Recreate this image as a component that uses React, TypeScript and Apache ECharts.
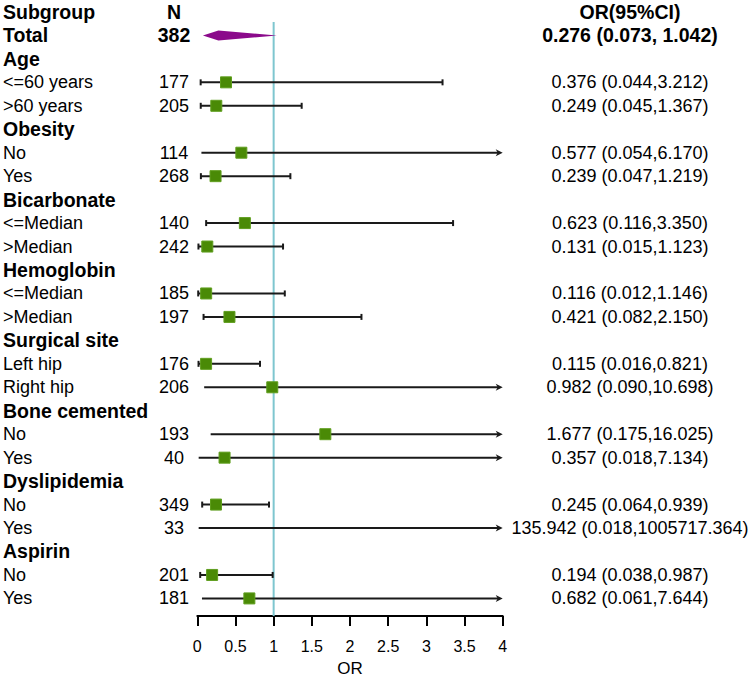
import React, { useEffect, useRef } from 'react';
import * as echarts from 'echarts';

const headerTexts = ['Subgroup', 'N', 'OR(95%CI)'];
const subgroups = ['Total', 'Age', '<=60 years', '>60 years', 'Obesity', 'No', 'Yes', 'Bicarbonate', '<=Median', '>Median', 'Hemoglobin', '<=Median', '>Median', 'Surgical site', 'Left hip', 'Right hip', 'Bone cemented', 'No', 'Yes', 'Dyslipidemia', 'No', 'Yes', 'Aspirin', 'No', 'Yes'];
const counts = [382, null, 177, 205, null, 114, 268, null, 140, 242, null, 185, 197, null, 176, 206, null, 193, 40, null, 349, 33, null, 201, 181];
const orValues = [0.276, null, 0.376, 0.249, null, 0.577, 0.239, null, 0.623, 0.131, null, 0.116, 0.421, null, 0.115, 0.982, null, 1.677, 0.357, null, 0.245, 135.942, null, 0.194, 0.682];
const ciLower = [0.073, null, 0.044, 0.045, null, 0.054, 0.047, null, 0.116, 0.015, null, 0.012, 0.082, null, 0.016, 0.09, null, 0.175, 0.018, null, 0.064, 0.018, null, 0.038, 0.061];
const ciUpper = [1.042, null, 3.212, 1.367, null, 6.17, 1.219, null, 3.35, 1.123, null, 1.146, 2.15, null, 0.821, 10.698, null, 16.025, 7.134, null, 0.939, 1005717.364, null, 0.987, 7.644];
const axisMin = 0;
const axisMax = 4;
const axisInterval = 0.5;
const refValue = 1;

const FONT = '"Liberation Sans", Arial, sans-serif';
// rows are placed top-down on a value axis: y = ROW_BASE - rowIndex
const ROW_BASE = 30;

export default function App() {
  const ref = useRef<HTMLDivElement>(null);
  useEffect(() => {
    if (!ref.current) return;
    const chart = echarts.init(ref.current, null, { renderer: 'svg' });
    const rowCount = subgroups.length + 1;
    const rowY = (r: number) => ROW_BASE - r;
    const yMin = rowY(25.75);
    const yMax = rowY(-0.51);

    const textData = [];
    for (let r = 0; r < rowCount; r++) textData.push([0, rowY(r), r]);

    const forestData: any[] = [];
    subgroups.forEach((_, i) => {
      if (orValues[i] == null) return;
      forestData.push([orValues[i], rowY(i + 1), ciLower[i], ciUpper[i], i === 0 ? 1 : 0]);
    });

    const fmt = (v: number) => v.toFixed(3);

    const option: any = {
      animation: false,
      grid: { left: 197.3, right: 248.3, top: 0, bottom: 63.3, containLabel: false },
      xAxis: {
        type: 'value',
        position: 'bottom',
        min: axisMin,
        max: axisMax,
        interval: axisInterval,
        name: 'OR',
        nameLocation: 'middle',
        nameGap: 44,
        nameTextStyle: { fontSize: 17, color: '#000', fontFamily: FONT },
        axisLine: { show: true, onZero: false, lineStyle: { color: '#000', width: 2 } },
        axisTick: { show: true, inside: false, length: 10, lineStyle: { color: '#000', width: 2 } },
        axisLabel: { fontSize: 16, color: '#000', fontFamily: FONT, margin: 22 },
        splitLine: { show: false },
      },
      yAxis: {
        type: 'value',
        min: yMin,
        max: yMax,
        show: false,
        splitLine: { show: false },
      },
      series: [
        {
          type: 'line',
          z: 1,
          symbol: 'none',
          clip: false,
          data: [[refValue, rowY(0.43)], [refValue, yMin]],
          lineStyle: { color: '#7ec6cf', width: 2 },
          silent: true,
        },
        {
          type: 'custom',
          z: 2,
          clip: false,
          data: forestData,
          renderItem: (params: any, api: any) => {
            const or = api.value(0);
            const row = api.value(1);
            const lo = api.value(2);
            const hi = api.value(3);
            const isTotal = api.value(4) === 1;
            const y = api.coord([0, row])[1];
            const xLo = api.coord([lo, row])[0];
            const arrow = hi > axisMax;
            const xHi = api.coord([Math.min(hi, axisMax), row])[0];
            const children: any[] = [];
            if (isTotal) {
              const xOr = api.coord([or, row])[0];
              children.push({
                type: 'polygon',
                shape: { points: [[xLo, y], [xOr, y - 5], [xHi, y], [xOr, y + 5]] },
                style: { fill: '#8b0a8b' },
                z2: 5,
              });
              return { type: 'group', children };
            }
            children.push({
              type: 'line',
              shape: { x1: xLo, y1: y, x2: arrow ? xHi - 3 : xHi, y2: y },
              style: { stroke: '#1a1a1a', lineWidth: 2 },
            });
            if (arrow) {
              children.push({
                type: 'polygon',
                shape: { points: [[xHi, y], [xHi - 7, y - 3.5], [xHi - 5, y], [xHi - 7, y + 3.5]] },
                style: { fill: '#1a1a1a' },
              });
            } else {
              children.push({
                type: 'line',
                shape: { x1: xLo, y1: y - 3, x2: xLo, y2: y + 3 },
                style: { stroke: '#1a1a1a', lineWidth: 2 },
              });
              children.push({
                type: 'line',
                shape: { x1: xHi, y1: y - 3, x2: xHi, y2: y + 3 },
                style: { stroke: '#1a1a1a', lineWidth: 2 },
              });
            }
            if (or <= axisMax) {
              const xOr = api.coord([or, row])[0];
              children.push({
                type: 'rect',
                shape: { x: xOr - 5.5, y: y - 5.5, width: 11, height: 11 },
                style: { fill: '#4a8a06', stroke: '#5f9e1e', lineWidth: 1 },
                z2: 10,
              });
            }
            return { type: 'group', children };
          },
        },
        {
          type: 'custom',
          z: 3,
          clip: false,
          silent: true,
          data: textData,
          renderItem: (params: any, api: any) => {
            const yVal = api.value(1);
            const row = api.value(2);
            const y = api.coord([0, yVal])[1];
            const children: any[] = [];
            const mk = (text: string, x: number, align: string, bold: boolean) => ({
              type: 'text',
              style: {
                x,
                y,
                text,
                fill: '#000',
                fontSize: bold ? 19.5 : 18,
                fontWeight: bold ? 'bold' : 'normal',
                fontFamily: FONT,
                align,
                verticalAlign: 'middle',
              },
            });
            if (row === 0) {
              children.push(mk(headerTexts[0], 3, 'left', true));
              children.push(mk(headerTexts[1], 174, 'center', true));
              children.push(mk(headerTexts[2], 630, 'center', true));
            } else {
              const i = row - 1;
              const isGroup = counts[i] == null;
              const isTotal = i === 0;
              children.push(mk(subgroups[i], 3, 'left', isGroup || isTotal));
              if (counts[i] != null) children.push(mk(String(counts[i]), 174, 'center', isTotal));
              if (orValues[i] != null) {
                const t = isTotal
                  ? `${fmt(orValues[i] as number)} (${fmt(ciLower[i] as number)}, ${fmt(ciUpper[i] as number)})`
                  : `${fmt(orValues[i] as number)} (${fmt(ciLower[i] as number)},${fmt(ciUpper[i] as number)})`;
                children.push(mk(t, 630, 'center', isTotal));
              }
            }
            return { type: 'group', children };
          },
        },
      ],
    };
    chart.setOption(option);
    return () => chart.dispose();
  }, []);
  return <div ref={ref} style={{ position: 'absolute', left: 0, top: 0, width: 751, height: 682 }} />;
}
